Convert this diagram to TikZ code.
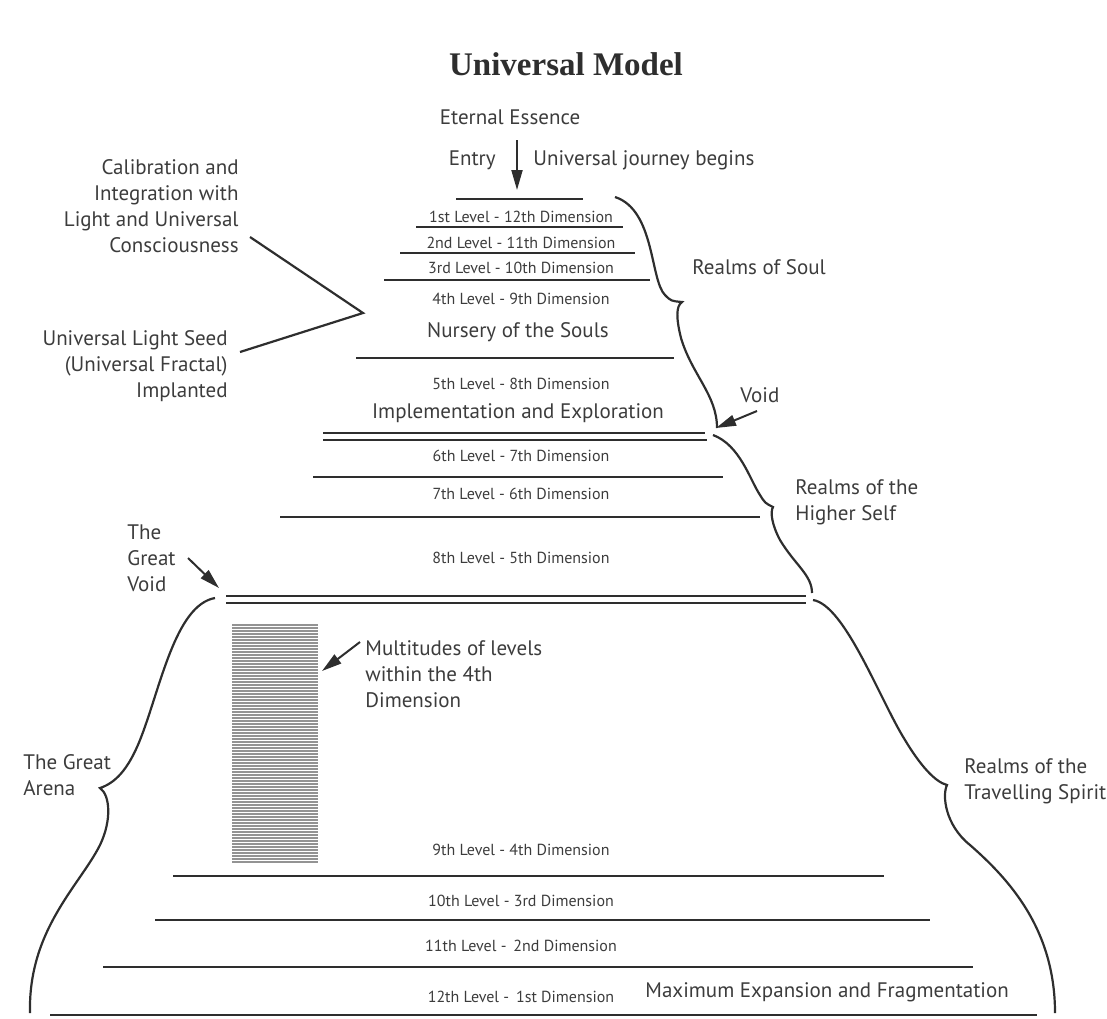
\documentclass[tikz,border=0pt]{standalone}
\usepackage{fontspec}
\setmainfont{PT Sans}
\newfontfamily\titlefont{Liberation Serif}
\usetikzlibrary{arrows.meta}
\definecolor{ink}{HTML}{2E2E2E}
\definecolor{txt}{HTML}{3C3C3C}
\tikzset{
  level/.style={font=\fontsize{8}{10}\selectfont, text=txt, inner sep=0pt},
  lbl/.style={font=\fontsize{10.5}{13}\selectfont, text=txt, inner sep=0pt},
  tier/.style={draw=ink, line width=1.4pt},
  brace/.style={draw=ink, line width=1.1pt},
  stripe/.style={draw=gray!85, line width=0.75pt},
  pointer/.style={draw=ink, line width=1pt, -{Triangle[length=10pt,width=5.5pt]}},
}
\begin{document}
\begin{tikzpicture}[x=0.5pt,y=-0.5pt]
  \useasboundingbox (0,0) rectangle (1107,1018);

  \node[font=\titlefont\bfseries\fontsize{16.5}{20}\selectfont, text=ink] (title) at (566,64) {Universal Model};
  \node[lbl] (essence) at (510,117) {Eternal Essence};
  \node[lbl, anchor=east] (entry) at (496,160) {Entry};
  \node[lbl, anchor=west] (journey) at (533,160) {Universal journey begins};
  \coordinate (entrytop) at (517,140);
  \coordinate (entrytip) at (517,190);
  \draw[pointer] (entrytop) -- (entrytip);

  % levels of the soul
  \draw[tier] (456,199) -- (583,199);
  \node[level] (l1) at (521,217) {1st Level - 12th Dimension};
  \draw[tier] (416,227) -- (623,227);
  \node[level] (l2) at (521,243) {2nd Level - 11th Dimension};
  \draw[tier] (400,253) -- (635,253);
  \node[level] (l3) at (521,268) {3rd Level - 10th Dimension};
  \draw[tier] (384,280) -- (650,280);
  \node[level] (l4) at (521,299) {4th Level - 9th Dimension};
  \node[lbl] (nursery) at (518,332) {Nursery of the Souls};
  \draw[tier] (356,358) -- (674,358);
  \node[level] (l5) at (521,384) {5th Level - 8th Dimension};
  \node[lbl] (explore) at (518,413) {Implementation and Exploration};
  \draw[tier] (323,433) -- (705,433);
  \draw[tier] (323,440) -- (707,440);
  \node[level] (l6) at (521,456) {6th Level - 7th Dimension};
  \draw[tier] (313,477) -- (723,477);
  \node[level] (l7) at (521,494) {7th Level - 6th Dimension};
  \draw[tier] (280,517) -- (760,517);
  \node[level] (l8) at (521,558) {8th Level - 5th Dimension};
  \draw[tier] (226,596) -- (806,596);
  \draw[tier] (226,603) -- (806,603);

  % the great arena
  \foreach \y in {625,628,...,863}
    \draw[stripe] (232,\y) -- (318,\y);
  \node[level] (l9) at (521,850) {9th Level - 4th Dimension};
  \draw[tier] (173,876) -- (884,876);
  \node[level] (l10) at (521,901) {10th Level - 3rd Dimension};
  \draw[tier] (155,920) -- (930,920);
  \node[level] (l11) at (521,946) {11th Level -\, 2nd Dimension};
  \draw[tier] (103,967) -- (973,967);
  \node[level] (l12) at (521,997) {12th Level -\, 1st Dimension};
  \node[lbl, anchor=west] (maxexp) at (645,992) {Maximum Expansion and Fragmentation};
  \draw[tier] (50,1015) -- (1037,1015);

  % braces
  \draw[brace] (615,197) .. controls (655,210) and (650,280) .. (665,295)
    .. controls (671,301) .. (682,302)
    .. controls (676,306) and (676,318) .. (681,338)
    .. controls (692,375) and (717,395) .. (717,428);
  \draw[brace] (713,435) .. controls (740,445) and (750,480) .. (760,495)
    .. controls (765,503) .. (773,507)
    .. controls (770,512) and (772,525) .. (780,540)
    .. controls (795,565) and (812,575) .. (812,593);
  \draw[brace] (215,598) .. controls (175,605) and (160,690) .. (140,740)
    .. controls (128,770) and (115,783) .. (100,788)
    .. controls (110,795) and (112,820) .. (100,845)
    .. controls (80,885) and (28,930) .. (30,1013);
  \draw[brace] (813,600) .. controls (845,605) and (880,700) .. (905,740)
    .. controls (920,765) and (935,782) .. (947,785)
    .. controls (942,795) and (945,825) .. (970,845)
    .. controls (1010,880) and (1055,930) .. (1055,1013);

  \node[lbl, anchor=west] (soul) at (692,267) {Realms of Soul};
  \node[lbl, anchor=west] (void) at (740,395) {Void};
  \node[lbl, anchor=west, align=left] (higher) at (795,502) {Realms of the\\Higher Self};
  \node[lbl, anchor=west, align=left] (spirit) at (964,781) {Realms of the\\Travelling Spirit};
  \node[lbl, anchor=west, align=left] (arena) at (23,775) {The Great\\Arena};
  \node[lbl, anchor=west, align=left] (greatvoid) at (127,558) {The\\Great\\Void};
  \node[lbl, anchor=west, align=left] (multi) at (365,674) {Multitudes of levels\\within the 4th\\Dimension};
  \node[lbl, anchor=east, align=right] (calib) at (239,206) {Calibration and\\Integration with\\Light and Universal\\Consciousness};
  \node[lbl, anchor=east, align=right] (seed) at (228,366) {Universal Light Seed\\(Universal Fractal)\\Implanted};

  % pointers
  \coordinate (voidtail) at (757,411);
  \coordinate (voidtip) at (716,428);
  \draw[pointer] (voidtail) -- (voidtip);
  \coordinate (gvtail) at (188,558);
  \coordinate (gvtip) at (219,588);
  \draw[pointer] (gvtail) -- (gvtip);
  \coordinate (multail) at (360,642);
  \coordinate (multip) at (322,671);
  \draw[pointer] (multail) -- (multip);
  \coordinate (calibend) at (250,237);
  \coordinate (apex) at (363,313);
  \coordinate (seedend) at (240,352);
  \draw[brace] (calibend) -- (apex) -- (seedend);
\end{tikzpicture}
\end{document}
